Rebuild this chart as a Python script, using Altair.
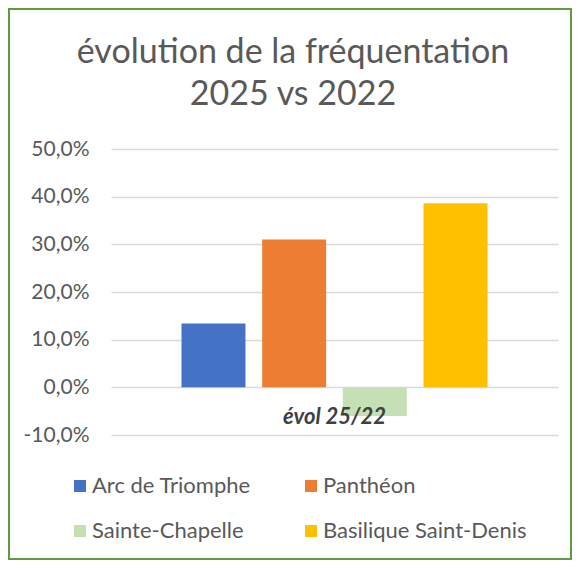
import altair as alt
import pandas as pd

# ---- data ----
category = "évol 25/22"
series = ["Arc de Triomphe", "Panthéon", "Sainte-Chapelle", "Basilique Saint-Denis"]
values = [0.134, 0.310, -0.060, 0.386]
colors = ["#4472C4", "#ED7D31", "#C5E0B4", "#FFC000"]
y_ticks = [-0.1, 0.0, 0.1, 0.2, 0.3, 0.4, 0.5]
title_lines = ["évolution de la fréquentation", "2025 vs 2022"]

df = pd.DataFrame({"cat": [category] * len(series), "series": series, "value": values})
lab = pd.DataFrame({"cat": [category], "value": [0.0]})

W, H = 447, 286
PAD = {"left": 103, "top": 141, "right": 14, "bottom": 125}

FONT = "Lato"
GREY = "#595959"

x_enc = alt.X("cat:N", axis=None,
              scale=alt.Scale(paddingInner=0, paddingOuter=0.2304))
y_enc = alt.Y("value:Q", title=None,
              scale=alt.Scale(domain=[-0.1, 0.5], nice=False, zero=False),
              axis=alt.Axis(values=y_ticks,
                            labelExpr="replace(replace(format(datum.value, '.1%'), '.', ','), '\u2212', '-')",
                            domain=False, ticks=False, labelPadding=22,
                            labelFontSize=21, labelFont=FONT, labelColor=GREY,
                            gridColor="#D9D9D9", gridWidth=1.4))

bars = alt.Chart(df).mark_bar().encode(
    x=x_enc,
    xOffset=alt.XOffset("series:N", sort=series,
                        scale=alt.Scale(paddingInner=0.207, paddingOuter=0)),
    y=y_enc,
    color=alt.Color("series:N", sort=series,
                    scale=alt.Scale(domain=series, range=colors),
                    legend=alt.Legend(title=None, orient="none", legendX=-42, legendY=326,
                                      direction="horizontal",
                                      columns=2, columnPadding=49, rowPadding=23,
                                      symbolType="square", symbolSize=144,
                                      symbolStrokeWidth=0, labelOffset=1, padding=0,
                                      labelFontSize=22, labelFont=FONT, labelColor=GREY,
                                      labelLimit=300)),
)

text = alt.Chart(lab).mark_text(dy=30, baseline="middle", align="center",
                                fontWeight="bold", fontStyle="italic",
                                fontSize=22, font=FONT, color="#404040").encode(
    x=x_enc, y=y_enc, text="cat:N")

border = alt.Chart(pd.DataFrame({"k": [0]})).mark_rect(
    filled=False, stroke="#5F9A43", strokeWidth=2).encode(
    x=alt.value(-102), x2=alt.value(W + PAD["right"] - 1),
    y=alt.value(-PAD["top"] + 1), y2=alt.value(H + PAD["bottom"] - 1))

chart = alt.layer(border, bars, text).properties(
    width=W, height=H,
    padding=PAD,
    background="white",
    autosize=alt.AutoSizeParams(type="none"),
    title=alt.TitleParams(title_lines, anchor="middle", frame="bounds",
                          fontSize=34, font=FONT, fontWeight="normal",
                          color=GREY, lineHeight=42, offset=-104, dx=3),
).configure_view(stroke="transparent", strokeWidth=0)

chart.save("out.html", embed_options={"renderer": "svg", "actions": False})
